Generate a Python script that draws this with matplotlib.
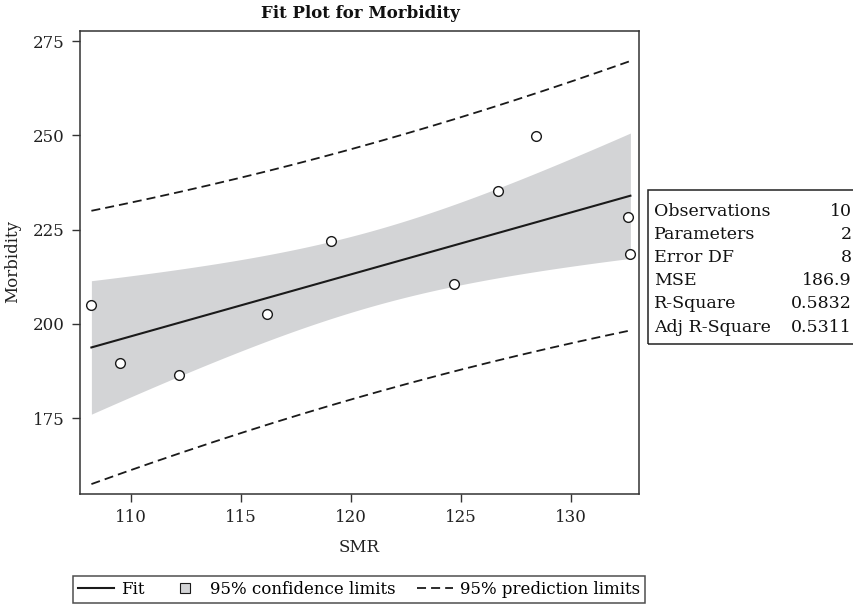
import numpy as np
import matplotlib
matplotlib.use("Agg")
import matplotlib.pyplot as plt
from matplotlib.lines import Line2D
from matplotlib.patches import Rectangle

# ---- data ----
smr = [108.2, 109.5, 112.2, 116.2, 119.1, 124.7, 126.7, 128.4, 132.6, 132.7]
morbidity = [205.0, 189.7, 186.6, 202.6, 222.0, 210.5, 235.3, 249.8, 228.4, 218.5]

x_ticks = [110, 115, 120, 125, 130]
y_ticks = [175, 200, 225, 250, 275]

stat_labels = ["Observations", "Parameters", "Error DF", "MSE", "R-Square", "Adj R-Square"]
stat_values = ["10", "2", "8", "186.9", "0.5832", "0.5311"]

t_crit = 2.306  # t(0.975, df=8)

plt.rcParams['font.family'] = ['DejaVu Serif']

W, H = 854, 609
fig = plt.figure(figsize=(W / 100, H / 100), dpi=100)

def fx(px):
    return px / W

def fy(py):
    return 1 - py / H

ax_l, ax_r, ax_t, ax_b = 80, 639, 31, 494
ax = fig.add_axes([fx(ax_l), fy(ax_b), fx(ax_r) - fx(ax_l), fy(ax_t) - fy(ax_b)])

# ---- regression fit & bands ----
x = np.array(smr)
y = np.array(morbidity)
n = len(x)
slope, intercept = np.polyfit(x, y, 1)
resid = y - (intercept + slope * x)
mse = np.sum(resid ** 2) / (n - 2)
xbar = x.mean()
sxx = np.sum((x - xbar) ** 2)
xs = np.linspace(x.min(), x.max(), 200)
yfit = intercept + slope * xs
se_mean = np.sqrt(mse * (1 / n + (xs - xbar) ** 2 / sxx))
se_pred = np.sqrt(mse * (1 + 1 / n + (xs - xbar) ** 2 / sxx))

band_color = '#d3d4d6'
ink = '#1a1a1a'
ax.fill_between(xs, yfit - t_crit * se_mean, yfit + t_crit * se_mean,
                color=band_color, lw=0, zorder=1)
ax.plot(xs, yfit, color=ink, lw=1.5, zorder=3)
dash = (0, (5, 2.8))
ax.plot(xs, yfit + t_crit * se_pred, color=ink, lw=1.3, linestyle=dash, zorder=3)
ax.plot(xs, yfit - t_crit * se_pred, color=ink, lw=1.3, linestyle=dash, zorder=3)
ax.plot(x, y, linestyle='none', marker='o', markersize=7, markerfacecolor='white',
        markeredgecolor=ink, markeredgewidth=1.0, zorder=4)

# ---- axes styling ----
x_per_px = 22.0
ax.set_xlim(110 - (131 - ax_l) / x_per_px, 110 + (ax_r - 131) / x_per_px)
y_per_px = 3.773
ax.set_ylim(275 - (ax_b - 41) / y_per_px, 275 + (41 - ax_t) / y_per_px)
ax.set_xticks(x_ticks)
ax.set_yticks(y_ticks)
ax.tick_params(axis='both', direction='out', length=6, width=1, color='#333333',
               labelsize=12, labelcolor='#222222', pad=5)
for s in ax.spines.values():
    s.set_color('#333333')
    s.set_linewidth(1.1)

fig.text(fx(360), fy(13), "Fit Plot for Morbidity", ha='center', va='center',
         fontsize=12, fontweight='bold', color='#111111')
fig.text(fx(13), fy(262), "Morbidity", rotation=90, ha='center', va='center',
         fontsize=12, color='#222222')
fig.text(fx(359.5), fy(547), "SMR", ha='center', va='center',
         fontsize=12, color='#222222')

# ---- statistics box ----
box_l, box_t, box_b = 648, 190, 344
fig.patches.append(Rectangle((fx(box_l), fy(box_b)), fx(W + 10) - fx(box_l),
                             fy(box_t) - fy(box_b), transform=fig.transFigure,
                             fill=False, edgecolor='#222222', lw=1.1))
row0, drow = 211, 23.2
for i, (lab, val) in enumerate(zip(stat_labels, stat_values)):
    yy = fy(row0 + i * drow)
    fig.text(fx(654), yy, lab, ha='left', va='center', fontsize=12.5, color='#111111')
    fig.text(fx(852), yy, val, ha='right', va='center', fontsize=12.5, color='#111111')

# ---- legend ----
handles = [
    Line2D([], [], color=ink, lw=1.5),
    Line2D([], [], linestyle='none', marker='s', markersize=7,
           markerfacecolor=band_color, markeredgecolor=ink, markeredgewidth=0.8),
    Line2D([], [], color=ink, lw=1.3, linestyle=dash),
]
labels = ["Fit", "95% confidence limits", "95% prediction limits"]
leg = fig.legend(handles, labels, loc='center', bbox_to_anchor=(fx(359), fy(589)),
                 ncol=3, frameon=True, fancybox=False, fontsize=12,
                 handlelength=2.2, handletextpad=0.4, columnspacing=1.3,
                 borderpad=0.3, edgecolor='#222222')
leg.get_frame().set_linewidth(1.1)

fig.savefig("out.png", dpi=100)
